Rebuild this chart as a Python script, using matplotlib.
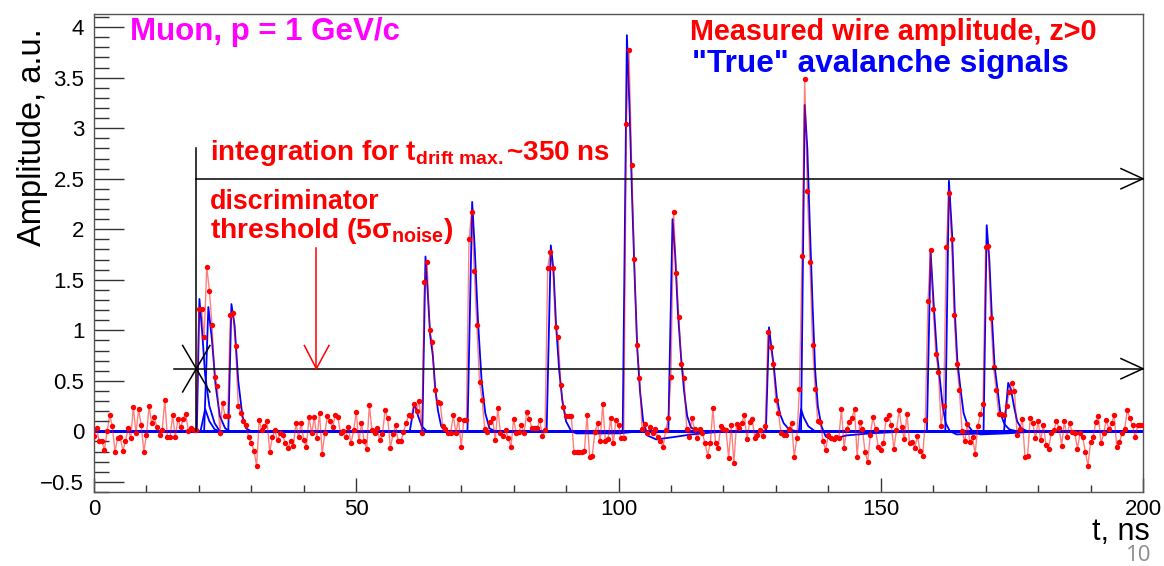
import matplotlib
matplotlib.use('Agg')
import matplotlib.pyplot as plt
import numpy as np

plt.rcParams['font.family'] = ['Liberation Sans', 'DejaVu Sans']
plt.rcParams['mathtext.fontset'] = 'custom'
plt.rcParams['mathtext.rm'] = 'Liberation Sans'
plt.rcParams['mathtext.bf'] = 'Liberation Sans:bold'
plt.rcParams['mathtext.it'] = 'Liberation Sans:italic'

# measured wire amplitude, one sample every 0.5 ns (0 .. 200 ns)
t_step = 0.5
amp_measured = [
    -0.05, 0.03, -0.10, -0.10, -0.18, 0.00, 0.16, 0.05, -0.20, -0.07, -0.06, -0.19, -0.10, 0.03, -0.07, 0.24, -0.02, 0.22, 0.06, -0.20,   # 0
    -0.04, 0.25, 0.08, 0.14, 0.04, -0.04, 0.01, 0.31, -0.06, -0.06, 0.16, -0.06, 0.12, 0.04, 0.12, 0.17, 0.00, 0.03, 0.01, 0.01,   # 10
    1.21, 1.21, 0.93, 1.63, 1.39, 1.05, 0.54, 0.45, -0.02, 0.28, 0.15, 0.15, 1.15, 1.17, 0.84, 0.25, 0.18, 0.10, 0.06, -0.06,   # 20
    -0.12, -0.19, -0.34, 0.11, 0.01, 0.05, 0.10, -0.20, -0.06, 0.01, -0.09, -0.02, -0.04, -0.12, -0.16, -0.10, -0.14, 0.08, -0.06, 0.08,   # 30
    -0.09, -0.15, 0.14, -0.02, 0.14, -0.07, 0.18, -0.22, -0.02, 0.15, 0.10, 0.04, 0.16, 0.14, -0.02, 0.00, -0.06, 0.04, -0.12, 0.01,   # 40
    0.19, -0.10, 0.08, -0.10, -0.17, 0.26, 0.01, -0.02, 0.03, -0.09, -0.03, 0.21, 0.13, -0.16, -0.03, 0.06, -0.10, -0.10, -0.01, 0.08,   # 50
    0.16, 0.15, 0.27, 0.20, 0.30, -0.02, 1.48, 1.68, 1.00, 0.88, 0.41, 0.29, 0.28, 0.05, 0.02, -0.02, -0.02, 0.16, -0.02, 0.12,   # 60
    -0.15, 0.11, 0.11, 1.90, 2.17, 1.59, 1.05, 0.49, 0.31, 0.02, -0.01, 0.09, 0.13, -0.09, 0.23, -0.02, -0.05, 0.01, -0.07, -0.15,   # 70
    0.12, -0.02, -0.01, 0.06, -0.02, 0.19, 0.12, 0.03, 0.03, 0.03, 0.11, -0.05, 0.01, 1.62, 1.77, 1.62, 1.03, 0.93, 0.46, 0.24,   # 80
    0.15, 0.15, 0.15, -0.20, -0.20, -0.20, -0.20, -0.19, 0.16, -0.25, -0.24, -0.01, 0.08, -0.10, 0.27, -0.10, -0.08, 0.13, -0.12, 0.11,   # 90
    0.06, -0.07, -0.07, 3.04, 3.77, 2.64, 1.71, 0.85, 0.53, 0.02, 0.07, -0.02, 0.04, -0.02, 0.02, -0.06, -0.10, -0.15, 0.01, 0.13,   # 100
    0.54, 2.17, 1.57, 1.13, 0.67, 0.53, 0.02, -0.06, 0.13, 0.02, -0.07, 0.02, -0.02, -0.12, -0.24, -0.12, 0.23, -0.12, -0.16, 0.05,   # 110
    0.02, 0.01, -0.26, 0.06, -0.31, 0.07, 0.03, 0.08, 0.16, -0.08, 0.09, 0.12, -0.07, -0.04, 0.01, -0.05, 0.05, 0.98, 0.83, 0.67,   # 120
    0.31, 0.18, -0.02, -0.04, -0.04, 0.02, 0.08, -0.25, -0.07, 0.42, 1.74, 3.49, 2.38, 1.68, 0.85, 0.42, 0.10, 0.09, -0.10, -0.18,   # 130
    -0.04, -0.07, -0.08, -0.06, -0.07, 0.22, -0.16, 0.02, 0.09, 0.13, 0.22, -0.25, 0.09, 0.02, -0.20, -0.30, -0.04, 0.14, 0.02, -0.15,   # 140
    -0.18, -0.12, 0.12, 0.16, 0.06, -0.17, 0.01, 0.21, 0.04, -0.08, 0.17, -0.12, -0.11, -0.16, -0.05, -0.19, -0.24, 0.11, 1.29, 1.79,   # 150
    1.21, 0.77, 0.59, 0.05, 0.25, 1.82, 2.36, 1.90, 1.15, 0.67, 0.41, 0.00, -0.10, 0.07, -0.11, -0.06, -0.22, 0.05, 0.17, 0.27,   # 160
    1.82, 1.83, 1.12, 0.64, 0.41, 0.17, 0.17, 0.16, 0.25, 0.39, 0.48, 0.40, -0.04, 0.02, 0.12, -0.25, -0.24, 0.13, 0.08, -0.07,   # 170
    0.10, -0.09, 0.06, -0.13, -0.17, -0.02, 0.01, 0.10, 0.03, -0.14, 0.10, -0.06, 0.08, -0.01, -0.02, -0.17, -0.02, -0.06, -0.20, -0.34,   # 180
    -0.11, -0.06, 0.09, 0.15, -0.12, -0.02, 0.11, 0.02, 0.08, 0.16, -0.15, -0.11, -0.02, 0.02, 0.21, 0.13, 0.06, -0.06, 0.06, 0.06,   # 190
    0.06,
]

# "true" avalanche signals, vertices (t [ns], amplitude) of each pulse
true_t = [
    [19.6, 20.1, 20.6, 21.2, 22.0, 23.0, 24.0],
    [20.3, 21.2, 22.0, 23.0, 24.0],
    [21.0, 21.8, 22.5, 23.2, 24.0, 25.0, 26.0],
    [25.6, 26.2, 26.8, 27.5, 28.3, 29.0, 30.0],
    [60.2, 61.1, 61.8, 62.5, 63.5],
    [62.6, 63.2, 63.6, 64.1, 64.6, 65.1, 65.6, 66.2, 67.0],
    [71.2, 72.1, 72.6, 73.2, 73.9, 74.6, 75.4, 76.5],
    [86.3, 87.1, 87.6, 88.1, 88.7, 89.3, 90.0, 91.0, 92.0, 100.0, 104.0],
    [100.8, 101.6, 102.1, 102.6, 103.1, 103.6, 104.1, 104.7, 105.5, 107.2, 110.0, 114.0, 118.0, 122.0],
    [109.5, 110.3, 110.8, 111.3, 111.9, 112.5, 113.1, 113.8, 115.0],
    [128.1, 128.7, 129.1, 129.6, 130.2, 130.8, 131.5, 132.5, 134.0],
    [134.4, 134.8, 135.3, 136.2, 137.5],
    [134.8, 135.5, 136.0, 136.5, 137.0, 137.5, 138.0, 138.7, 139.5, 140.5, 143.5, 148.0, 155.0],
    [158.8, 159.5, 160.1, 160.7, 161.2, 161.8, 162.4, 163.2, 164.5, 170.0, 175.0],
    [162.3, 163.0, 163.6, 164.1, 164.6, 165.2, 165.8, 166.5, 167.5, 169.0, 174.0, 180.0],
    [169.6, 170.2, 170.7, 171.2, 171.7, 172.3, 172.8, 173.6, 174.5, 176.0],
    [173.5, 174.3, 174.8, 175.4, 176.0, 176.8, 178.0],
]
true_v = [
    [0, 1.31, 1.00, 0.55, 0.25, 0.08, 0],
    [0, 0.22, 0.10, 0.02, 0],
    [0, 1.23, 0.90, 0.45, 0.15, 0.03, 0],
    [0, 1.26, 1.05, 0.50, 0.15, 0.03, 0],
    [0, 0.28, 0.15, 0.05, 0],
    [0, 1.73, 1.40, 0.95, 0.75, 0.40, 0.20, 0.05, 0],
    [0, 2.27, 1.80, 1.10, 0.50, 0.18, 0.03, 0],
    [0, 1.84, 1.60, 1.05, 0.60, 0.30, 0.10, 0.0, -0.02, -0.02, 0],
    [0, 3.92, 3.20, 2.30, 1.50, 0.80, 0.40, 0.10, -0.04, -0.08, -0.06, -0.03, -0.01, 0],
    [0, 2.10, 1.75, 1.20, 0.75, 0.40, 0.15, 0.04, 0],
    [0, 1.03, 0.85, 0.65, 0.33, 0.17, 0.08, 0.02, 0],
    [0, 0.22, 0.14, 0.05, 0],
    [0, 3.23, 2.80, 2.00, 1.25, 0.60, 0.25, 0.05, -0.05, -0.08, -0.04, -0.02, 0],
    [0, 1.78, 1.25, 0.78, 0.55, 0.25, 0.08, 0.0, -0.03, -0.02, 0],
    [0, 2.48, 1.95, 1.20, 0.70, 0.42, 0.18, 0.07, 0.0, -0.03, -0.02, 0],
    [0, 2.04, 1.70, 1.12, 0.65, 0.40, 0.18, 0.07, 0.02, 0],
    [0, 0.48, 0.42, 0.25, 0.10, 0.03, 0],
]

t_min, t_max = 0, 200
threshold = 0.62          # 5 sigma noise
integ_level = 2.5
t_trigger = 19.5

W, H = 1164, 566
fig = plt.figure(figsize=(W / 100, H / 100), dpi=100)
ax = fig.add_axes([94 / W, 1 - 492 / H, (1143 - 94) / W, (492 - 14) / H])


def px(x, y):
    return x / W, 1 - y / H


# true signals
for tt, vv in zip(true_t, true_v):
    ax.plot([t_min] + tt + [t_max], [0] + vv + [0], color='#0000ff', lw=1.3, zorder=2)

# measured
t_meas = t_step * np.arange(len(amp_measured))
ax.plot(t_meas, amp_measured, color='#ff0000', lw=1.0, alpha=0.5, zorder=3)
ax.plot(t_meas, amp_measured, 'o', color='#ff0000', ms=3.9, mew=0, zorder=4)

# integration window / threshold arrows
k = dict(color='black', lw=1.1, zorder=5, clip_on=False)
ax.plot([t_trigger, t_max], [integ_level, integ_level], **k)
ax.plot([t_max - 4.2, t_max, t_max - 4.2], [integ_level + 0.1, integ_level, integ_level - 0.1], **k)
ax.plot([15.3, t_max], [threshold, threshold], **k)
ax.plot([t_max - 4.2, t_max, t_max - 4.2], [threshold + 0.1, threshold, threshold - 0.1], **k)
ax.plot([t_trigger, t_trigger], [0, 2.8], **k)
ax.plot([16.9, 22.1], [0.85, 0.39], **k)
ax.plot([16.9, 22.1], [0.39, 0.85], **k)

kr = dict(color='#ff0000', lw=1.1, zorder=5)
ax.plot([42.4, 42.4], [1.81, threshold], **kr)
ax.plot([40.1, 42.4, 44.8], [0.85, threshold, 0.85], **kr)

ax.set_xlim(t_min, t_max)
ax.set_ylim(-0.6, 4.13)
ax.set_xticks([0, 50, 100, 150, 200])
ax.set_xticks(np.arange(0, 201, 10), minor=True)
ax.set_yticks([-0.5, 0, 0.5, 1, 1.5, 2, 2.5, 3, 3.5, 4])
ax.set_yticklabels(['\u22120.5', '0', '0.5', '1', '1.5', '2', '2.5', '3', '3.5', '4'])
ax.set_yticks(np.arange(-0.6, 4.11, 0.1), minor=True)
ax.tick_params(axis='both', which='both', direction='in', top=False, right=False,
               labelsize=16, width=1, color='#333333')
ax.tick_params(axis='y', which='major', length=21.5, pad=7)
ax.tick_params(axis='y', which='minor', length=10.8)
ax.tick_params(axis='x', which='major', length=10, pad=5)
ax.tick_params(axis='x', which='minor', length=5)
for s in ax.spines.values():
    s.set_color('#555555')
    s.set_linewidth(1.0)

# texts
fig.text(*px(130, 40), 'Muon, p = 1 GeV/c', color='#ff00ff', fontsize=22.5,
         fontweight='bold', va='baseline', ha='left')
fig.text(*px(1097, 40), 'Measured wire amplitude, z>0', color='#ff0000', fontsize=20.7,
         fontweight='bold', va='baseline', ha='right')
fig.text(*px(692, 72), '"True" avalanche signals', color='#0000ff', fontsize=22.8,
         fontweight='bold', va='baseline', ha='left')
fig.text(*px(210, 160), r'integration for t$_{\mathbf{drift\ max.}}$~350 ns', color='#ff0000',
         fontsize=20, fontweight='bold', va='baseline', ha='left')
fig.text(*px(210, 209), 'discriminator', color='#ff0000', fontsize=19.3,
         fontweight='bold', va='baseline', ha='left')
fig.text(*px(210, 238), r'threshold (5σ$_{\mathbf{noise}}$)', color='#ff0000', fontsize=20.3,
         fontweight='bold', va='baseline', ha='left')

fig.text(*px(33, 28), 'Amplitude, a.u.', fontsize=23.5, rotation=90, ha='center', va='top')
fig.text(*px(1150, 540), 't, ns', fontsize=22, ha='right', va='baseline')
fig.text(*px(1151, 561), '10', fontsize=16, color='#8c8c8c', ha='right', va='baseline',
         family=['Open Sans', 'DejaVu Sans'])

fig.savefig('out.png', dpi=100)
